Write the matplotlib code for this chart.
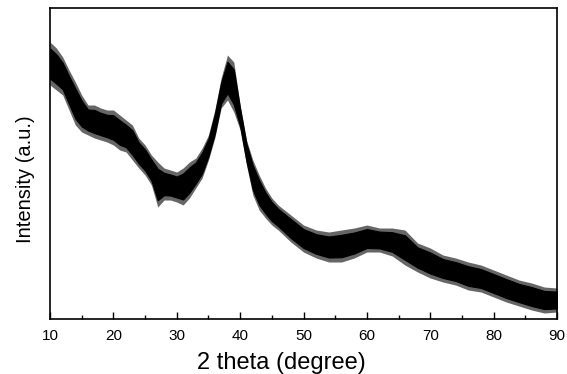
import numpy as np
import matplotlib.pyplot as plt
from matplotlib.ticker import MultipleLocator, NullLocator

# 2 theta positions (degree) where the noisy XRD trace was read
two_theta = [10, 11, 12, 13, 14, 15, 16, 17, 18, 19, 20, 21, 22, 23, 24, 25,
             26, 27, 28, 29, 30, 31, 32, 33, 34, 35, 36, 37, 38, 39, 40, 41,
             42, 43, 44, 45, 46, 48, 50, 52, 54, 56, 58, 60, 62, 64, 66, 68,
             70, 72, 74, 76, 78, 80, 82, 84, 86, 88, 90]

# upper / lower edge of the noise band (a.u.)
upper = [277, 271, 262, 249, 237, 224, 214, 214, 211, 209, 209, 204, 199, 194,
         181, 174, 164, 157, 151, 149, 147, 151, 157, 161, 171, 184, 209, 241,
         264, 257, 214, 179, 159, 144, 131, 121, 114, 104, 94, 89, 87, 89, 91,
         94, 91, 91, 89, 76, 71, 64, 61, 57, 54, 49, 44, 39, 36, 32, 31]
lower = [234, 229, 224, 209, 194, 187, 184, 181, 179, 177, 174, 169, 167, 159,
         151, 144, 134, 112, 119, 119, 117, 114, 121, 131, 141, 159, 181, 211,
         219, 207, 189, 154, 124, 109, 101, 94, 89, 77, 67, 61, 57, 57, 61,
         67, 67, 63, 54, 47, 41, 37, 34, 29, 27, 22, 17, 13, 9, 6, 7]

plt.rcParams['font.family'] = ['Liberation Sans', 'DejaVu Sans']

x = np.array(two_theta, dtype=float)
hi = np.array(upper, dtype=float)
lo = np.array(lower, dtype=float)
span = hi - lo

fig = plt.figure(figsize=(5.67, 3.74), dpi=100)
ax = fig.add_axes([0.0882, 0.147, 0.8942, 0.8316])

# grey spikes outside, solid black core inside
ax.fill_between(x, lo, hi, color='0.4', linewidth=0)
ax.fill_between(x, lo + 0.15 * span, hi - 0.15 * span, color='black', linewidth=0.8,
                edgecolor='black')

ax.set_xlim(10, 90)
ax.set_ylim(0, 311)
ax.xaxis.set_major_locator(MultipleLocator(10))
ax.xaxis.set_minor_locator(MultipleLocator(5))
ax.yaxis.set_major_locator(NullLocator())
ax.tick_params(axis='x', which='major', direction='in', length=5, width=1,
               labelsize=11, pad=7)
ax.tick_params(axis='x', which='minor', direction='in', length=3, width=1)
for s in ax.spines.values():
    s.set_linewidth(1.2)

ax.set_xlabel('2 theta (degree)', fontsize=17)
ax.set_ylabel('Intensity (a.u.)', fontsize=14.5)
# labels sit slightly off-centre in the original
ax.xaxis.set_label_coords(0.456, -0.105)
ax.yaxis.set_label_coords(-0.03, 0.45)

fig.savefig('out.png', dpi=100)
